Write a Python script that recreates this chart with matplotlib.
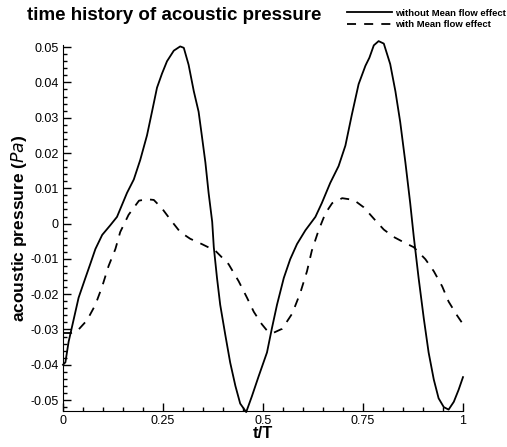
import numpy as np
import matplotlib.pyplot as plt
from matplotlib.ticker import MultipleLocator, FixedLocator

plt.rcParams['font.family'] = ['Liberation Sans', 'DejaVu Sans']

# values (t/T, acoustic pressure in Pa)
t_solid = [0.0, 0.006, 0.014, 0.027, 0.039, 0.056, 0.068, 0.081, 0.098, 0.118, 0.135,
           0.16, 0.177, 0.193, 0.21, 0.2225, 0.235, 0.2475, 0.26, 0.277, 0.293, 0.302,
           0.314, 0.327, 0.339, 0.347, 0.356, 0.364, 0.373, 0.377, 0.385, 0.393, 0.406,
           0.418, 0.431, 0.443, 0.458, 0.472, 0.489, 0.51, 0.522, 0.535, 0.552, 0.568,
           0.585, 0.606, 0.631, 0.647, 0.668, 0.689, 0.706, 0.722, 0.739, 0.756, 0.766,
           0.777, 0.789, 0.802, 0.818, 0.831, 0.843, 0.856, 0.868, 0.877, 0.889, 0.902,
           0.914, 0.927, 0.939, 0.952, 0.964, 0.977, 0.989, 1.0]
p_solid = [-0.040, -0.0393, -0.0335, -0.027, -0.021, -0.0154, -0.0115, -0.0072, -0.0032,
           -0.0005, 0.0019, 0.0087, 0.0125, 0.018, 0.025, 0.0317, 0.0385, 0.0425, 0.046,
           0.049, 0.0502, 0.0498, 0.045, 0.0375, 0.0317, 0.025, 0.0173, 0.0087, 0.0005,
           -0.0067, -0.0154, -0.023, -0.0317, -0.0394, -0.046, -0.051, -0.0534, -0.049,
           -0.0433, -0.0365, -0.0298, -0.023, -0.0154, -0.0101, -0.0058, -0.0019, 0.0019,
           0.0058, 0.0115, 0.0163, 0.0221, 0.0308, 0.0395, 0.0447, 0.047, 0.0505, 0.0517,
           0.051, 0.0452, 0.0375, 0.0288, 0.0173, 0.0058, -0.0038, -0.0154, -0.0269,
           -0.0365, -0.0442, -0.0495, -0.052, -0.0527, -0.0505, -0.0471, -0.0435]

t_dash = [0.0, 0.02, 0.035, 0.06, 0.081, 0.098, 0.114, 0.131, 0.143, 0.164, 0.19, 0.21,
          0.227, 0.2475, 0.268, 0.293, 0.318, 0.347, 0.381, 0.414, 0.439, 0.46, 0.477,
          0.497, 0.51, 0.525, 0.548, 0.573, 0.593, 0.61, 0.622, 0.639, 0.656, 0.673,
          0.698, 0.727, 0.752, 0.777, 0.802, 0.827, 0.852, 0.877, 0.906, 0.927, 0.948,
          0.964, 0.985, 1.0]
p_dash = [-0.031, -0.031, -0.0305, -0.0274, -0.023, -0.0178, -0.012, -0.0072, -0.0024,
          0.0025, 0.0065, 0.0069, 0.0067, 0.0043, 0.0012, -0.0024, -0.0043, -0.0058,
          -0.0077, -0.0115, -0.0163, -0.021, -0.025, -0.0285, -0.0303, -0.031, -0.0298,
          -0.0255, -0.0197, -0.0135, -0.0077, -0.0019, 0.0029, 0.0058, 0.0072, 0.0067,
          0.0046, 0.0014, -0.0017, -0.0038, -0.0053, -0.0067, -0.0101, -0.0135, -0.0178,
          -0.0221, -0.026, -0.0285]

x_ticks = [0, 0.25, 0.5, 0.75, 1]
x_labels = ['0', '0.25', '0.5', '0.75', '1']
y_ticks = [0.05, 0.04, 0.03, 0.02, 0.01, 0, -0.01, -0.02, -0.03, -0.04, -0.05]
y_labels = ['0.05', '0.04', '0.03', '0.02', '0.01', '0', '-0.01', '-0.02', '-0.03', '-0.04', '-0.05']

fig = plt.figure(figsize=(5.07, 4.47), dpi=100)
ax = fig.add_axes([63/507, 1 - 411/447, 400/507, 366/447])

ax.plot(t_solid, p_solid, color='black', lw=1.3, clip_on=False,
        label='without Mean flow effect')
ax.plot(t_dash, p_dash, color='black', lw=1.3, ls=(0, (5, 4.5)), clip_on=False,
        label='with Mean flow effect')

ax.set_xlim(0, 1)
ax.set_ylim(-0.0531, 0.0506)
ax.spines['top'].set_visible(False)
ax.spines['right'].set_visible(False)

ax.xaxis.set_major_locator(FixedLocator(x_ticks))
ax.set_xticklabels(x_labels)
ax.yaxis.set_major_locator(FixedLocator(y_ticks))
ax.set_yticklabels(y_labels)
ax.xaxis.set_minor_locator(MultipleLocator(0.05))
ax.yaxis.set_minor_locator(MultipleLocator(0.002))
ax.tick_params(which='major', direction='in', length=6, width=1, labelsize=9, pad=3)
ax.tick_params(which='minor', direction='in', length=3, width=1)

ax.set_xlabel('t/T', fontsize=12, fontweight='bold', labelpad=-1)
ax.set_ylabel('acoustic pressure ($\\mathbf{\\it{Pa}}$)', fontsize=12.5,
              fontweight='bold', labelpad=1)

fig.text(27/507, 1 - 15/447, 'time history of acoustic pressure', fontsize=13.5,
         fontweight='bold', va='center', ha='left')

fig.legend(loc='upper left', bbox_to_anchor=(343/507, 1 - 5/447), frameon=False,
           handlelength=4.8, handletextpad=0.3, labelspacing=0.25, borderaxespad=0,
           prop={'weight': 'bold', 'size': 6.8})

fig.savefig('out.png', dpi=100)
